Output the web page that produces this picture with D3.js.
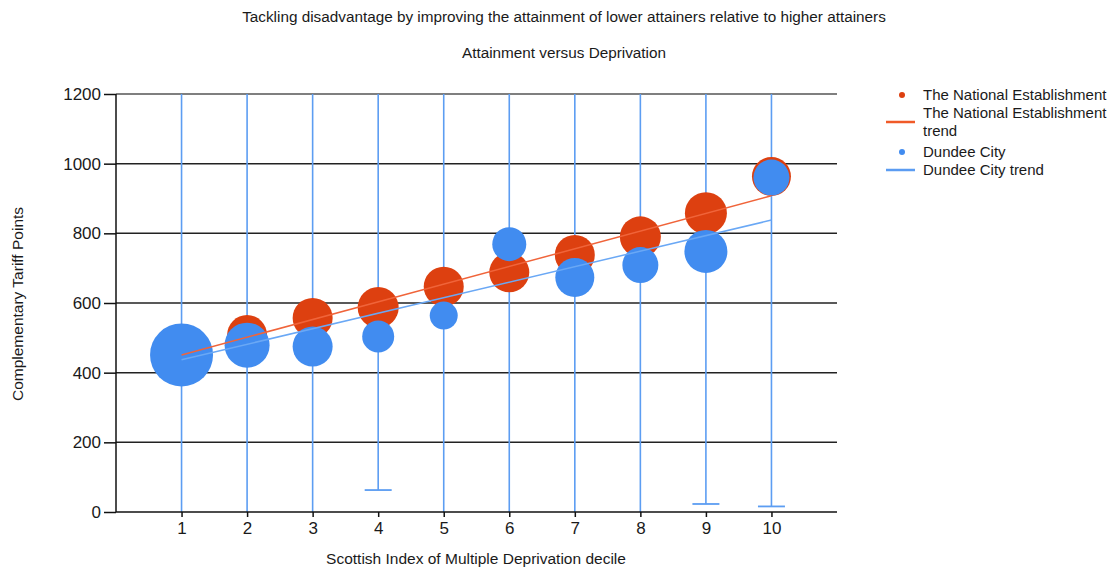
<!DOCTYPE html>
<html>
<head>
<meta charset="utf-8">
<script src="https://cdn.jsdelivr.net/npm/d3@7"></script>
<style>
  html, body { margin: 0; padding: 0; background: #fff; }
  svg { display: block; font-family: "Liberation Sans", Arial, sans-serif; }
</style>
</head>
<body>
<svg id="chart" width="1120" height="574"></svg>
<script>
// ---- data ----
const deciles = [1, 2, 3, 4, 5, 6, 7, 8, 9, 10];
const nationalValues = [452, 508, 557, 587, 647, 688, 738, 790, 858, 963];
const nationalSizes  = [200, 200, 200, 205, 200, 200, 200, 205, 210, 195];
const dundeeValues   = [451, 479, 475, 504, 564, 769, 673, 709, 748, 960];
const dundeeSizes    = [315, 225, 200, 160, 140, 170, 195, 180, 215, 180];
const dundeeErrLow   = [-100, -100, -100, 63, -100, -100, -100, -100, 23, 16];
const dundeeErrHigh  = [1400, 1400, 1400, 1400, 1400, 1400, 1400, 1400, 1400, 1400];
const trendX         = [1, 10];
const nationalTrend  = [451, 908];
const dundeeTrend    = [437, 838];
const yTicks = [0, 200, 400, 600, 800, 1000, 1200];
const xTicks = [1, 2, 3, 4, 5, 6, 7, 8, 9, 10];
const titleText = "Tackling disadvantage by improving the attainment of lower attainers relative to higher attainers";
const subtitleText = "Attainment versus Deprivation";
const xTitle = "Scottish Index of Multiple Deprivation decile";
const yTitle = "Complementary Tariff Points";
const legendLabels = [
  ["The National Establishment"],
  ["The National Establishment", "trend"],
  ["Dundee City"],
  ["Dundee City trend"]
];

// ---- styles ----
const ORANGE = "#dd4010";
const BLUE = "#418cf0";
const ERR = "#5c9df2";
const TEXT = "#1a1a1a";
const legendStyle = [
  { type: "dot", color: ORANGE },
  { type: "line", color: "#f05a28" },
  { type: "dot", color: BLUE },
  { type: "line", color: "#5b9cf2" }
];

const svg = d3.select("#chart");
const pLeft = 116, pRight = 837, pTop = 94, pBottom = 512;

const x = d3.scaleLinear().domain([0, 11]).range([pLeft, pRight]);
const y = d3.scaleLinear().domain([0, 1200]).range([pBottom, pTop]);
const r = d3.scaleLinear().domain([0, d3.max(dundeeSizes)]).range([0, 31.5]);

// titles
svg.append("text").attr("x", 564).attr("y", 22).attr("text-anchor", "middle")
  .attr("font-size", 15.3).attr("fill", TEXT).text(titleText);
svg.append("text").attr("x", 564).attr("y", 58).attr("text-anchor", "middle")
  .attr("font-size", 15.3).attr("fill", TEXT).text(subtitleText);

// clip
svg.append("defs").append("clipPath").attr("id", "plotclip")
  .append("rect").attr("x", pLeft).attr("y", pTop).attr("width", pRight - pLeft).attr("height", pBottom - pTop);

// horizontal grid
svg.append("g").selectAll("line").data(yTicks.filter(d => d > 0)).join("line")
  .attr("x1", pLeft).attr("x2", pRight)
  .attr("y1", d => y(d)).attr("y2", d => y(d))
  .attr("stroke", d => d === 1200 ? "#555" : "#222").attr("stroke-width", 1.5);

const plot = svg.append("g").attr("clip-path", "url(#plotclip)");

// error bars (Dundee)
const errData = deciles.map((d, i) => ({ x: d, lo: dundeeErrLow[i], hi: dundeeErrHigh[i] }));
plot.append("g").selectAll("line").data(errData).join("line")
  .attr("x1", d => x(d.x)).attr("x2", d => x(d.x))
  .attr("y1", d => y(d.lo)).attr("y2", d => y(d.hi))
  .attr("stroke", ERR).attr("stroke-width", 1.6);
plot.append("g").selectAll("line").data(errData.filter(d => d.lo > 0)).join("line")
  .attr("x1", d => x(d.x) - 13.5).attr("x2", d => x(d.x) + 13.5)
  .attr("y1", d => y(d.lo)).attr("y2", d => y(d.lo))
  .attr("stroke", ERR).attr("stroke-width", 1.8);

// bubbles
const natData = deciles.map((d, i) => ({ x: d, v: nationalValues[i], s: nationalSizes[i] }));
const dunData = deciles.map((d, i) => ({ x: d, v: dundeeValues[i], s: dundeeSizes[i] }));
plot.append("g").selectAll("circle").data(natData).join("circle")
  .attr("cx", d => x(d.x)).attr("cy", d => y(d.v)).attr("r", d => r(d.s))
  .attr("fill", ORANGE);
plot.append("g").selectAll("circle").data(dunData).join("circle")
  .attr("cx", d => x(d.x)).attr("cy", d => y(d.v)).attr("r", d => r(d.s))
  .attr("fill", BLUE);

// trend lines
const line = d3.line().x(d => x(d[0])).y(d => y(d[1]));
plot.append("path").datum(trendX.map((d, i) => [d, dundeeTrend[i]]))
  .attr("d", line).attr("fill", "none").attr("stroke", "#6aa8f5").attr("stroke-width", 1.5);
plot.append("path").datum(trendX.map((d, i) => [d, nationalTrend[i]]))
  .attr("d", line).attr("fill", "none").attr("stroke", "#f0643a").attr("stroke-width", 1.5);

// axes
const yAxis = svg.append("g").attr("transform", `translate(${pLeft},0)`)
  .call(d3.axisLeft(y).tickValues(yTicks).tickFormat(d3.format("d"))
    .tickSize(12).tickPadding(3).tickSizeOuter(0));
const xAxis = svg.append("g").attr("transform", `translate(0,${pBottom})`)
  .call(d3.axisBottom(x).tickValues(xTicks).tickFormat(d3.format("d"))
    .tickSize(5).tickPadding(5).tickSizeOuter(0));
[yAxis, xAxis].forEach(g => {
  g.select(".domain").attr("stroke", "#111").attr("stroke-width", 1.5);
  g.selectAll(".tick line").attr("stroke", "#111").attr("stroke-width", 1.5);
  g.selectAll(".tick text").attr("font-size", 17).attr("fill", TEXT)
    .attr("font-family", "'Liberation Sans', Arial, sans-serif");
});
yAxis.select(".domain").attr("d", `M0,${pBottom}V${pTop}`);
xAxis.select(".domain").attr("d", `M${pLeft},0H${pRight}`);

// axis titles
svg.append("text").attr("x", 476).attr("y", 564).attr("text-anchor", "middle")
  .attr("font-size", 15.5).attr("fill", TEXT).text(xTitle);
svg.append("text").attr("transform", "translate(23,304) rotate(-90)").attr("text-anchor", "middle")
  .attr("font-size", 15.5).attr("fill", TEXT).text(yTitle);

// legend
const legendRowsY = [95, 113, 152, 170];
const legend = svg.append("g");
legendLabels.forEach((labels, i) => {
  const cy = legendRowsY[i];
  const st = legendStyle[i];
  const g = legend.append("g");
  if (st.type === "dot") {
    g.append("circle").attr("cx", 902).attr("cy", cy).attr("r", 3).attr("fill", st.color);
  } else {
    const ly = cy + (labels.length - 1) * 9;
    g.append("line").attr("x1", 886).attr("x2", 915).attr("y1", ly).attr("y2", ly)
      .attr("stroke", st.color).attr("stroke-width", 2.5);
  }
  labels.forEach((t, j) => {
    g.append("text").attr("x", 923).attr("y", cy + j * 18).attr("dy", "0.36em")
      .attr("font-size", 15).attr("fill", TEXT).text(t);
  });
});
</script>
</body>
</html>
